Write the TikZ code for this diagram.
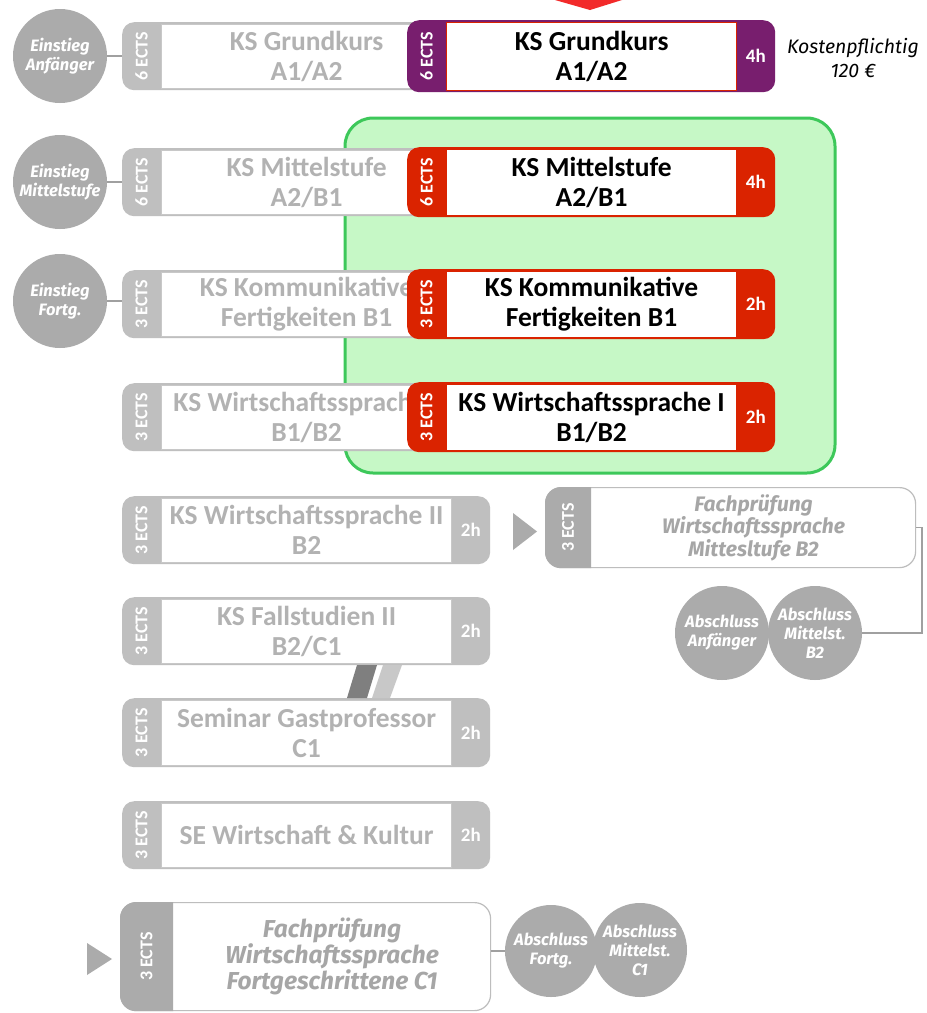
\documentclass[tikz,border=0pt]{standalone}
\usepackage{fontspec}
\setmainfont{Carlito}
\newfontfamily\fira{Fira Sans}
\usetikzlibrary{calc}
\definecolor{grytab}{HTML}{BFBFBF}
\definecolor{gryline}{HTML}{C8C8C8}
\definecolor{grytxt}{HTML}{B2B2B2}
\definecolor{redtab}{HTML}{DA2300}
\definecolor{redline}{HTML}{DA2300}
\definecolor{redtxt}{HTML}{000000}
\definecolor{purtab}{HTML}{781E6E}
\definecolor{purline}{HTML}{DA2300}
\definecolor{purtxt}{HTML}{000000}
\definecolor{circfill}{HTML}{ABABAB}
\definecolor{greenfill}{HTML}{C6F8C6}
\definecolor{greenline}{HTML}{3DC85A}
\definecolor{fptab}{HTML}{ABABAB}
\definecolor{fptxt}{HTML}{A6A6A6}
\definecolor{fpline}{HTML}{BDBDBD}
\definecolor{arrowred}{HTML}{F22A2A}
\definecolor{bardark}{HTML}{7F7F7F}
\definecolor{barlight}{HTML}{C8C8C8}
\definecolor{connline}{HTML}{A0A0A0}
\tikzset{
  outerbox/.style={fill=#1tab, rounded corners=12pt, minimum width=368pt, inner sep=0pt, draw=none},
  innerbox/.style={fill=white, draw=#1line, line width=1.2pt, minimum width=290pt, inner sep=0pt,
    anchor=west, text=#1txt, align=center, font=\fontsize{27.5}{30}\selectfont\bfseries},
  ectstext/.style={rotate=90, text=white, inner sep=0pt, font=\fontsize{18}{18}\selectfont\bfseries},
  hourtext/.style={text=white, inner sep=0pt, font=\fontsize{19}{19}\selectfont\bfseries},
  circnode/.style={circle, fill=circfill, minimum size=94pt, inner sep=0pt, text=white, align=center,
    font=\fira\fontsize{16.5}{19}\selectfont\bfseries\itshape},
  fpouter/.style={fill=white, draw=fpline, line width=1.2pt, rounded corners=16pt, inner sep=0pt, anchor=north west},
  fptext/.style={text=fptxt, align=center, inner sep=0pt, font=\fira\bfseries\itshape},
  conn/.style={draw=connline, line width=1.5pt},
  greenzone/.style={fill=greenfill, draw=greenline, line width=3pt, rounded corners=28pt},
  notetext/.style={align=center, inner sep=0pt, font=\fira\fontsize{19.5}{24}\selectfont\itshape}
}
% #1 name, #2 kind, #3 x, #4 y, #5 height, #6 ects, #7 hours, #8 text
\newcommand{\course}[8]{%
  \node[outerbox=#2, minimum height=#5pt, anchor=north west] (#1) at (#3,#4) {};
  \node[innerbox=#2, minimum height=#5pt-4pt] (#1-t) at ([xshift=39pt]#1.west) {#8};
  \node[ectstext] (#1-e) at ([xshift=19.5pt]#1.west) {#6};
  \node[hourtext] (#1-h) at ([xshift=-19.5pt]#1.east) {#7};
}
\begin{document}
\begin{tikzpicture}[x=1pt,y=-1pt]
\useasboundingbox (0,0) rectangle (927,1013);
\fill[white] (0,0) rectangle (927,1013);

% red arrow at top
\fill[arrowred] (555,0) -- (622,0) -- (590,10) -- cycle;

% green zone
\draw[greenzone] (345,118) rectangle (835,473);

% gray course boxes
\course{g1}{gry}{122}{22}{68}{6 ECTS}{}{KS Grundkurs\\A1/A2}
\course{g2}{gry}{122}{148}{68}{6 ECTS}{}{KS Mittelstufe\\A2/B1}
\course{g3}{gry}{122}{270}{68}{3 ECTS}{}{KS Kommunikative\\Fertigkeiten B1}
\course{g4}{gry}{122}{383}{68}{3 ECTS}{}{KS Wirtschaftssprache I\\B1/B2}
\course{g5}{gry}{122}{496}{68}{3 ECTS}{2h}{KS Wirtschaftssprache II\\B2}
\course{g6}{gry}{122}{597}{68}{3 ECTS}{2h}{KS Fallstudien II\\B2/C1}
\course{g7}{gry}{122}{698}{69}{3 ECTS}{2h}{Seminar Gastprofessor\\C1}
\course{g8}{gry}{122}{801}{68}{3 ECTS}{2h}{SE Wirtschaft \& Kultur}

% coloured course boxes
\course{k1}{pur}{407}{20}{72}{6 ECTS}{4h}{KS Grundkurs\\A1/A2}
\course{k2}{red}{407}{147}{70}{6 ECTS}{4h}{KS Mittelstufe\\A2/B1}
\course{k3}{red}{407}{269}{70}{3 ECTS}{2h}{KS Kommunikative\\Fertigkeiten B1}
\course{k4}{red}{407}{382}{70}{3 ECTS}{2h}{KS Wirtschaftssprache I\\B1/B2}

% note
\node[notetext] (note) at (853,58) {Kostenpflichtig\\120 €};

% entry circles
\node[circnode] (c1) at (60,56) {Einstieg\\Anfänger};
\node[circnode] (c2) at (60,182) {Einstieg\\Mittelstufe};
\node[circnode] (c3) at (60,301) {Einstieg\\Fortg.};
\draw[conn] (c1.east) -- (c1.east -| g1.west);
\draw[conn] (c2.east) -- (c2.east -| g2.west);
\draw[conn] (c3.east) -- (c3.east -| g3.west);

% bars between Fallstudien and Seminar
\fill[bardark] (357,665) -- (377,665) -- (367,698) -- (347,698) -- cycle;
\fill[barlight] (383,665) -- (402,665) -- (390,698) -- (372,698) -- cycle;

% Fachpruefung B2
\node[fpouter, minimum width=370pt, minimum height=80pt] (fp1) at (545,487) {};
\begin{scope}
  \clip (fp1.north west) rectangle ([xshift=46pt]fp1.south west);
  \fill[fptab, rounded corners=16pt] (fp1.north west) rectangle (fp1.south east);
\end{scope}
\node[ectstext] (fp1-e) at ([xshift=23pt]fp1.west) {3 ECTS};
\node[fptext, font=\fira\fontsize{21}{22.5}\selectfont\bfseries\itshape] (fp1-t) at ([xshift=23pt]fp1.center) {Fachprüfung\\Wirtschaftssprache\\Mittesltufe B2};
\fill[fptab] (513,513) -- (537,531.5) -- (513,550) -- cycle;

\node[circnode] (a1) at (722,633) {Abschluss\\Anfänger};
\node[circnode] (a2) at (815,633) {Abschluss\\Mittelst.\\B2};
\draw[conn] (fp1.east) -- ++(6,0) |- (a2.east);

% Fachpruefung C1
\node[fpouter, minimum width=370pt, minimum height=108pt] (fp2) at (120,902) {};
\begin{scope}
  \clip (fp2.north west) rectangle ([xshift=53pt]fp2.south west);
  \fill[fptab, rounded corners=16pt] (fp2.north west) rectangle (fp2.south east);
\end{scope}
\node[ectstext] (fp2-e) at ([xshift=26.5pt]fp2.west) {3 ECTS};
\node[fptext, font=\fira\fontsize{24.5}{26}\selectfont\bfseries\itshape] (fp2-t) at ([xshift=26.5pt]fp2.center) {Fachprüfung\\Wirtschaftssprache\\Fortgeschrittene C1};
\fill[fptab] (87,943) -- (112,959) -- (87,975) -- cycle;

\node[circnode, minimum size=92pt] (a3) at (551,951) {Abschluss\\Fortg.};
\node[circnode] (a4) at (640,950) {Abschluss\\Mittelst.\\C1};
\draw[conn] (a3.west -| fp2.east) -- (a3.west);
\end{tikzpicture}
\end{document}
